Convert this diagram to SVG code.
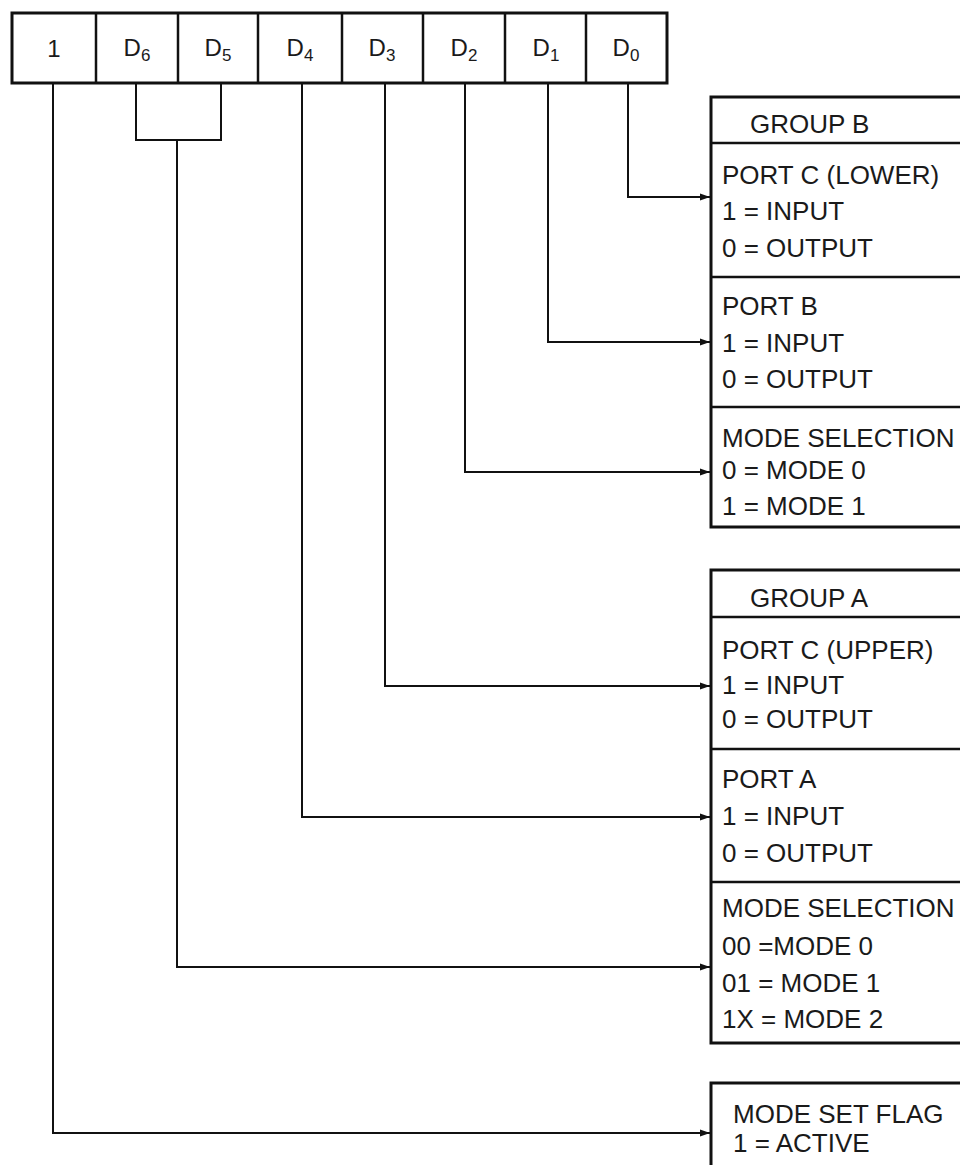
<svg xmlns="http://www.w3.org/2000/svg" width="960" height="1165" viewBox="0 0 960 1165">
<style>
.t{font-family:"Liberation Sans",Arial,sans-serif;font-size:26px;fill:#1a1a1a}
.b{font-family:"Liberation Sans",Arial,sans-serif;font-size:24px;fill:#1a1a1a}
.s{font-size:17px}
.box{fill:#fff;stroke:#111;stroke-width:3}
.div{stroke:#111;stroke-width:2.5}
.ln{fill:none;stroke:#111;stroke-width:2}
</style>
<defs>
<marker id="ah" markerWidth="10" markerHeight="8" refX="10" refY="4" orient="auto" markerUnits="userSpaceOnUse">
<path d="M0,0.5 L10,4 L0,7.5 Z" fill="#111"/>
</marker>
</defs>
<rect width="960" height="1165" fill="#fff"/>
<g id="control-word">
<rect class="box" x="12" y="13" width="655" height="70"/>
<line class="div" x1="96" y1="13" x2="96" y2="83"/>
<line class="div" x1="178" y1="13" x2="178" y2="83"/>
<line class="div" x1="258" y1="13" x2="258" y2="83"/>
<line class="div" x1="342" y1="13" x2="342" y2="83"/>
<line class="div" x1="423" y1="13" x2="423" y2="83"/>
<line class="div" x1="505" y1="13" x2="505" y2="83"/>
<line class="div" x1="586" y1="13" x2="586" y2="83"/>
<text class="b" x="54" y="57" text-anchor="middle">1</text>
<text class="b" x="137" y="56" text-anchor="middle">D<tspan class="s" dy="5">6</tspan></text>
<text class="b" x="218" y="56" text-anchor="middle">D<tspan class="s" dy="5">5</tspan></text>
<text class="b" x="300" y="56" text-anchor="middle">D<tspan class="s" dy="5">4</tspan></text>
<text class="b" x="382" y="56" text-anchor="middle">D<tspan class="s" dy="5">3</tspan></text>
<text class="b" x="464" y="56" text-anchor="middle">D<tspan class="s" dy="5">2</tspan></text>
<text class="b" x="546" y="56" text-anchor="middle">D<tspan class="s" dy="5">1</tspan></text>
<text class="b" x="626" y="56" text-anchor="middle">D<tspan class="s" dy="5">0</tspan></text>
</g>
<g id="group-b">
<rect class="box" x="711" y="97" width="270" height="430"/>
<line class="div" x1="711" y1="143" x2="960" y2="143"/>
<line class="div" x1="711" y1="277" x2="960" y2="277"/>
<line class="div" x1="711" y1="407" x2="960" y2="407"/>
<text class="t" x="750" y="133">GROUP B</text>
<text class="t" x="722" y="184">PORT C (LOWER)</text>
<text class="t" x="722" y="220">1 = INPUT</text>
<text class="t" x="722" y="257">0 = OUTPUT</text>
<text class="t" x="722" y="315">PORT B</text>
<text class="t" x="722" y="352">1 = INPUT</text>
<text class="t" x="722" y="388">0 = OUTPUT</text>
<text class="t" x="722" y="447">MODE SELECTION</text>
<text class="t" x="722" y="479">0 = MODE 0</text>
<text class="t" x="722" y="515">1 = MODE 1</text>
</g>
<g id="group-a">
<rect class="box" x="711" y="570" width="270" height="473"/>
<line class="div" x1="711" y1="617" x2="960" y2="617"/>
<line class="div" x1="711" y1="749" x2="960" y2="749"/>
<line class="div" x1="711" y1="882" x2="960" y2="882"/>
<text class="t" x="750" y="607">GROUP A</text>
<text class="t" x="722" y="659">PORT C (UPPER)</text>
<text class="t" x="722" y="694">1 = INPUT</text>
<text class="t" x="722" y="728">0 = OUTPUT</text>
<text class="t" x="722" y="788">PORT A</text>
<text class="t" x="722" y="825">1 = INPUT</text>
<text class="t" x="722" y="862">0 = OUTPUT</text>
<text class="t" x="722" y="917">MODE SELECTION</text>
<text class="t" x="722" y="955">00 =MODE 0</text>
<text class="t" x="722" y="992">01 = MODE 1</text>
<text class="t" x="722" y="1028">1X = MODE 2</text>
</g>
<g id="mode-set-flag">
<rect class="box" x="711" y="1083" width="270" height="100"/>
<text class="t" x="733" y="1123">MODE SET FLAG</text>
<text class="t" x="733" y="1152">1 = ACTIVE</text>
</g>
<g id="connectors">
<path class="ln" d="M628,83 V197 H710" marker-end="url(#ah)"/>
<path class="ln" d="M548,83 V342 H710" marker-end="url(#ah)"/>
<path class="ln" d="M465,83 V472 H710" marker-end="url(#ah)"/>
<path class="ln" d="M385,83 V686 H710" marker-end="url(#ah)"/>
<path class="ln" d="M302,83 V817 H710" marker-end="url(#ah)"/>
<path class="ln" d="M136,83 V140 H221 V83"/>
<path class="ln" d="M177,140 V967 H710" marker-end="url(#ah)"/>
<path class="ln" d="M53,83 V1133 H710" marker-end="url(#ah)"/>
</g>
</svg>
